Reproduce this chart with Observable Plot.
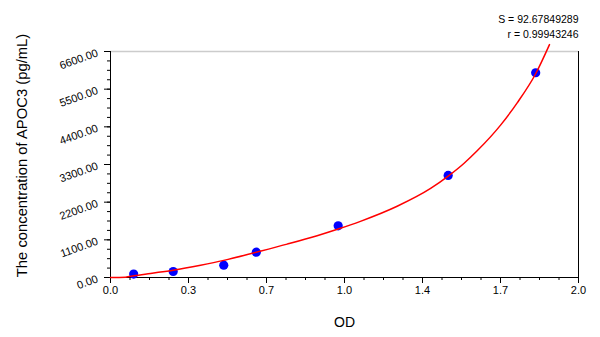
<!DOCTYPE html>
<html><head><meta charset="utf-8">
<script src="https://cdn.jsdelivr.net/npm/d3@7"></script>
<script src="https://cdn.jsdelivr.net/npm/@observablehq/plot@0.6"></script>
<style>
html,body{margin:0;padding:0;background:#fff;}
</style>
</head><body><div id="chart"></div>
<script>
// Standard points (OD, concentration pg/mL)
const pointOD = [0.099, 0.268, 0.484, 0.623, 0.973, 1.443, 1.817];
const pointConc = [100, 175, 360, 740, 1510, 2980, 5980];
// Fitted curve
const curveOD = [0, 0.064, 0.100, 0.171, 0.268, 0.385, 0.484, 0.623, 0.755, 0.883, 0.973, 1.068, 1.225, 1.368, 1.443, 1.510, 1.567, 1.667, 1.738, 1.817, 1.876];
const curveConc = [0, 9, 50, 120, 215, 360, 500, 740, 975, 1220, 1415, 1640, 2080, 2600, 2960, 3330, 3700, 4450, 5100, 5950, 6800];
// Axes
const xTickValues = [0, 1/3, 2/3, 1, 4/3, 5/3, 2];
const xTickLabels = ["0.0", "0.3", "0.7", "1.0", "1.4", "1.7", "2.0"];
const yTickValues = [0, 1100, 2200, 3300, 4400, 5500, 6600];
const yTickLabels = ["0.00", "1100.00", "2200.00", "3300.00", "4400.00", "5500.00", "6600.00"];
const statsLines = ["S = 92.67849289", "r = 0.99943246"];
const xTitle = "OD";
const yTitle = "The concentration of APOC3 (pg/mL)";

const points = pointOD.map((od, i) => ({od, conc: pointConc[i]}));
const curve = curveOD.map((od, i) => ({od, conc: curveConc[i]}));
const xMinor = d3.range(0, 25).map(i => i / 12);
const yMinor = d3.range(0, 25).map(i => i * 275);
const yLabelData = yTickValues.map((v, i) => ({v, label: yTickLabels[i]}));

const chart = Plot.plot({
  width: 600,
  height: 337,
  marginLeft: 110,
  marginRight: 22,
  marginTop: 51,
  marginBottom: 60,
  style: {fontFamily: "'Liberation Sans', Arial, sans-serif", fontSize: "11px", background: "#fff", color: "#000", overflow: "visible"},
  x: {domain: [0, 2]},
  y: {domain: [0, 6600]},
  marks: [
    Plot.ruleY([6600], {stroke: "#cccccc", strokeWidth: 1.5}),
    Plot.ruleX([2], {stroke: "#000"}),
    Plot.axisX({ticks: xMinor, tickSize: 3, tickFormat: () => "", label: null}),
    Plot.axisX({ticks: xTickValues, tickSize: 6, tickPadding: 3, fontSize: 11,
      tickFormat: d => xTickLabels[xTickValues.indexOf(d)], label: null}),
    Plot.axisY({ticks: yMinor, tickSize: 3, tickFormat: () => "", label: null}),
    Plot.axisY({ticks: yTickValues, tickSize: 6, tickFormat: () => "", label: null}),
    Plot.text(yLabelData, {y: "v", text: "label", frameAnchor: "left", textAnchor: "end",
      rotate: -20, dx: -13, dy: 1, fontSize: 11}),
    Plot.ruleX([0], {stroke: "#000"}),
    Plot.ruleY([0], {stroke: "#000"}),
    Plot.dot(points, {x: "od", y: "conc", r: 4.6, fill: "#0000ff", stroke: "none"}),
    Plot.line(curve, {x: "od", y: "conc", stroke: "#ff0000", strokeWidth: 1.5, curve: "monotone-x"}),
    Plot.text([xTitle], {frameAnchor: "bottom", textAnchor: "middle", lineAnchor: "middle", dy: 45, fontSize: 14}),
    Plot.text([yTitle], {frameAnchor: "left", textAnchor: "middle", lineAnchor: "middle", rotate: -90, dx: -88, dy: -9, fontSize: 14.8}),
    Plot.text([statsLines.join("\n")], {frameAnchor: "top-right", textAnchor: "end", lineAnchor: "bottom",
      lineHeight: 1.43, dy: -14, fontSize: 10.5})
  ]
});
document.getElementById("chart").appendChild(chart);
</script>
</body></html>
